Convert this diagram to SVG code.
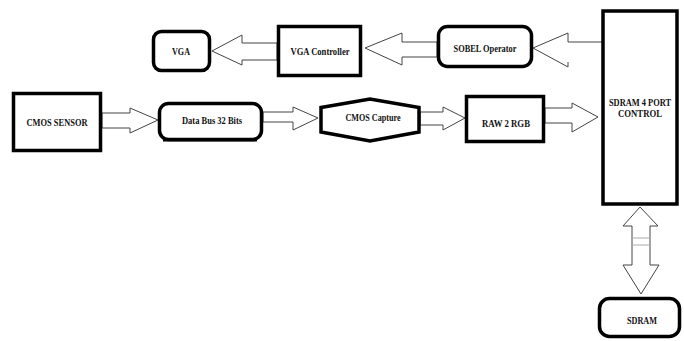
<svg xmlns="http://www.w3.org/2000/svg" width="684" height="341" viewBox="0 0 684 341">
<style>
.box{fill:#fff;stroke:#000;stroke-width:3.5}
.arr{fill:#fff;stroke:#444;stroke-width:1}
.t{font-family:"Liberation Serif","Times New Roman",serif;font-weight:bold;font-size:10.5px;fill:#111;text-anchor:middle}
</style>
<rect width="684" height="341" fill="#fff"/>
<g id="connectors">
<polygon class="arr" points="277,43 242,43 242,35 212,51 242,65 242,60 277,60"/>
<polygon class="arr" points="437,42 402,42 402,33 365,48 402,65 402,57 437,57"/>
<polyline class="arr" points="602,42 568,42 568,33 533,48 568,67 568,62" fill="none"/>
<polygon class="arr" points="102,113 130,113 130,108 158,120 130,133 130,128 102,128"/>
<polygon class="arr" points="263,112 293,112 293,107 318,118 293,130 293,122 263,122"/>
<polygon class="arr" points="420,112 443,112 443,107 465,118 443,130 443,125 420,125"/>
<polygon class="arr" points="545,108 572,108 572,103 598,117 572,132 572,123 545,123"/>
<polygon class="arr" points="640,207 658,226 650,226 650,265 659,265 641,294 623,265 632,265 632,226 623,226"/>
<line x1="632" y1="238" x2="650" y2="238" stroke="#aaa" stroke-width="1"/>
<line x1="632" y1="245" x2="650" y2="245" stroke="#aaa" stroke-width="1"/>
</g>
<g id="vga">
<rect class="box" x="153.5" y="31.5" width="56" height="39" rx="8"/>
<text class="t" x="181" y="55" textLength="18" lengthAdjust="spacingAndGlyphs">VGA</text>
</g>
<g id="vga-controller">
<rect class="box" x="278.5" y="26.5" width="82" height="49"/>
<text class="t" x="320" y="55" textLength="59" lengthAdjust="spacingAndGlyphs">VGA Controller</text>
</g>
<g id="sobel">
<rect class="box" x="438.5" y="26.5" width="93" height="40" rx="9"/>
<text class="t" x="485" y="52" textLength="63" lengthAdjust="spacingAndGlyphs">SOBEL Operator</text>
</g>
<g id="sdram-control">
<rect class="box" x="603" y="11" width="74" height="193"/>
<text class="t" transform="translate(640,106) scale(0.8,1)" x="0" y="0">SDRAM 4 PORT</text>
<text class="t" x="640" y="117" textLength="44" lengthAdjust="spacingAndGlyphs">CONTROL</text>
</g>
<g id="cmos-sensor">
<rect class="box" x="13.5" y="93.5" width="87" height="57"/>
<text class="t" x="57" y="126" textLength="61" lengthAdjust="spacingAndGlyphs">CMOS SENSOR</text>
</g>
<g id="data-bus">
<rect class="box" x="159.5" y="103.5" width="102" height="36" rx="9"/>
<path d="M163,140.5 H257" stroke="#000" stroke-width="2" fill="none"/>
<text class="t" x="212" y="124" textLength="60" lengthAdjust="spacingAndGlyphs">Data Bus 32 Bits</text>
</g>
<g id="cmos-capture">
<polygon class="box" points="321,107.5 370,99 419,107.5 419,132 370,141 321,132"/>
<text class="t" x="373" y="121" textLength="55" lengthAdjust="spacingAndGlyphs">CMOS Capture</text>
</g>
<g id="raw2rgb">
<rect class="box" x="466.5" y="96.5" width="77" height="45"/>
<text class="t" x="506" y="127" textLength="48" lengthAdjust="spacingAndGlyphs">RAW 2 RGB</text>
</g>
<g id="sdram">
<rect class="box" x="599.5" y="298.5" width="80" height="38" rx="10"/>
<text class="t" x="642" y="324" textLength="30" lengthAdjust="spacingAndGlyphs">SDRAM</text>
</g>
</svg>
